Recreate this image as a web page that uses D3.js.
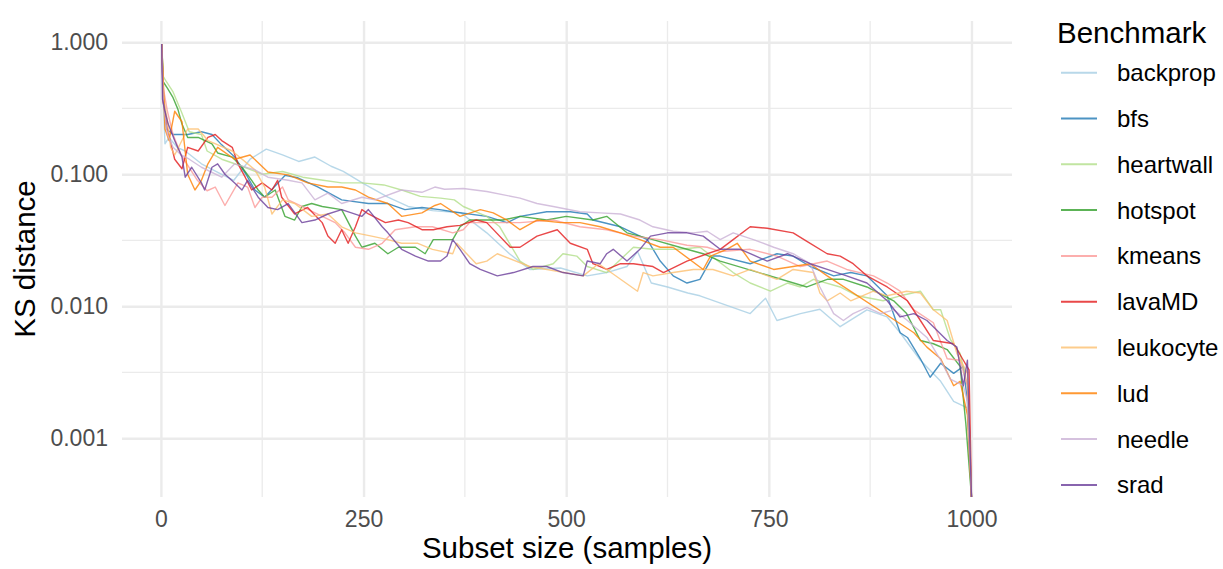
<!DOCTYPE html>
<html>
<head>
<meta charset="utf-8">
<script src="https://cdn.jsdelivr.net/npm/d3@7"></script>
<style>
  body { margin: 0; background: #fff; }
  text { font-family: "Liberation Sans", Arial, Helvetica, sans-serif; }
</style>
</head>
<body>
<div id="chart"></div>
<script>
// [subset size, KS distance]
var benchmarks = ["backprop", "bfs", "heartwall", "hotspot", "kmeans", "lavaMD", "leukocyte", "lud", "needle", "srad"];

var backprop = [[1,0.97],[3,0.35],[5,0.17],[10,0.19],[20,0.16],[30,0.15],[50,0.12],[75,0.10],[90,0.09],[110,0.13],[130,0.155],[150,0.14],[170,0.125],[190,0.135],[210,0.115],[225,0.105],[250,0.085],[280,0.067],[305,0.057],[335,0.053],[370,0.051],[402,0.036],[430,0.025],[455,0.019],[493,0.0195],[526,0.017],[550,0.018],[575,0.02],[588,0.026],[605,0.015],[625,0.014],[650,0.0126],[665,0.012],[727,0.0088],[746,0.0115],[760,0.0078],[789,0.0088],[813,0.0095],[838,0.007],[871,0.0094],[896,0.0083],[912,0.0063],[937,0.0039],[962,0.0027],[978,0.0019],[995,0.0017],[1000,0]];
var bfs = [[1,0.97],[3,0.4],[7,0.22],[15,0.2],[33,0.2],[50,0.21],[63,0.2],[75,0.167],[91,0.135],[105,0.1],[116,0.076],[128,0.067],[153,0.098],[169,0.094],[194,0.08],[223,0.064],[256,0.06],[280,0.06],[301,0.054],[322,0.056],[344,0.054],[360,0.052],[402,0.048],[427,0.043],[443,0.048],[476,0.052],[505,0.052],[526,0.05],[533,0.045],[567,0.04],[600,0.032],[616,0.022],[632,0.017],[649,0.015],[665,0.016],[681,0.024],[690,0.024],[727,0.021],[760,0.025],[780,0.024],[801,0.02],[830,0.017],[851,0.018],[871,0.017],[896,0.012],[912,0.0063],[921,0.0058],[937,0.004],[949,0.0029],[962,0.0037],[978,0.0031],[990,0.0035],[995,0.0019],[1000,0]];
var heartwall = [[1,0.97],[3,0.55],[7,0.5],[15,0.42],[25,0.3],[35,0.21],[50,0.2],[57,0.15],[75,0.13],[100,0.115],[125,0.1],[150,0.105],[175,0.095],[200,0.09],[223,0.086],[248,0.086],[275,0.083],[300,0.075],[320,0.068],[345,0.066],[362,0.064],[373,0.057],[402,0.048],[418,0.04],[430,0.03],[443,0.022],[459,0.019],[484,0.021],[496,0.025],[513,0.024],[526,0.02],[550,0.018],[583,0.028],[607,0.027],[640,0.027],[665,0.028],[706,0.018],[727,0.015],[752,0.013],[773,0.015],[789,0.014],[805,0.016],[838,0.014],[859,0.012],[891,0.011],[912,0.012],[937,0.013],[953,0.0094],[962,0.0094],[974,0.0056],[986,0.0044],[995,0.0025],[1000,0]];
var hotspot = [[1,0.97],[3,0.5],[8,0.45],[15,0.38],[21,0.31],[26,0.24],[33,0.19],[46,0.19],[63,0.17],[70,0.145],[88,0.135],[100,0.113],[112,0.09],[120,0.076],[128,0.067],[141,0.076],[153,0.048],[165,0.045],[174,0.057],[186,0.06],[199,0.057],[223,0.054],[240,0.034],[248,0.028],[264,0.03],[280,0.025],[293,0.028],[314,0.028],[326,0.025],[336,0.032],[360,0.032],[369,0.04],[381,0.045],[422,0.045],[443,0.048],[476,0.045],[500,0.048],[533,0.045],[550,0.048],[575,0.036],[607,0.032],[640,0.028],[669,0.025],[690,0.022],[797,0.014],[822,0.016],[842,0.016],[871,0.014],[904,0.011],[920,0.0088],[937,0.0055],[953,0.0052],[970,0.0047],[986,0.0035],[993,0.0013],[1000,0]];
var kmeans = [[1,0.97],[3,0.45],[8,0.3],[15,0.2],[25,0.14],[32,0.12],[45,0.09],[57,0.075],[67,0.08],[79,0.058],[95,0.086],[107,0.08],[116,0.056],[125,0.067],[137,0.067],[150,0.08],[157,0.064],[174,0.057],[199,0.048],[215,0.043],[227,0.036],[240,0.028],[256,0.027],[273,0.03],[289,0.038],[314,0.04],[335,0.04],[360,0.036],[373,0.038],[381,0.043],[422,0.043],[443,0.043],[484,0.045],[517,0.04],[550,0.038],[583,0.034],[616,0.032],[649,0.029],[674,0.028],[690,0.026],[727,0.027],[760,0.024],[789,0.02],[822,0.022],[846,0.019],[879,0.017],[896,0.015],[912,0.013],[929,0.0094],[953,0.0075],[970,0.004],[986,0.0039],[995,0.0025],[1000,0]];
var lavaMD = [[1,0.97],[3,0.35],[8,0.22],[17,0.13],[26,0.11],[33,0.16],[46,0.15],[58,0.19],[67,0.2],[75,0.18],[88,0.16],[95,0.12],[104,0.095],[112,0.076],[125,0.086],[137,0.076],[144,0.09],[149,0.067],[165,0.05],[181,0.056],[199,0.043],[206,0.034],[215,0.03],[223,0.038],[231,0.03],[240,0.04],[248,0.054],[256,0.05],[277,0.043],[293,0.045],[305,0.043],[322,0.038],[336,0.038],[353,0.04],[369,0.041],[389,0.045],[402,0.043],[431,0.028],[443,0.028],[464,0.034],[489,0.038],[505,0.03],[526,0.027],[533,0.021],[550,0.019],[567,0.021],[583,0.021],[607,0.02],[620,0.018],[649,0.022],[674,0.025],[690,0.027],[706,0.032],[727,0.04],[748,0.039],[780,0.036],[797,0.031],[822,0.025],[838,0.024],[854,0.021],[871,0.017],[896,0.014],[921,0.011],[937,0.0078],[953,0.0055],[978,0.0052],[990,0.0039],[997,0.0033],[1000,0]];
var leukocyte = [[1,0.97],[3,0.4],[8,0.25],[12,0.16],[17,0.14],[33,0.22],[46,0.22],[58,0.18],[88,0.15],[116,0.108],[128,0.08],[137,0.05],[150,0.064],[165,0.06],[186,0.048],[206,0.05],[223,0.04],[240,0.036],[260,0.034],[280,0.032],[297,0.03],[317,0.03],[335,0.027],[360,0.025],[365,0.03],[389,0.021],[402,0.022],[415,0.025],[455,0.02],[521,0.017],[540,0.021],[588,0.013],[595,0.018],[607,0.017],[632,0.018],[657,0.019],[681,0.019],[706,0.017],[727,0.019],[760,0.016],[780,0.019],[805,0.018],[813,0.0126],[822,0.011],[838,0.0126],[851,0.011],[879,0.013],[896,0.012],[920,0.013],[937,0.0126],[953,0.0094],[970,0.0078],[982,0.0044],[995,0.0031],[1000,0]];
var lud = [[1,0.97],[3,0.5],[5,0.22],[10,0.18],[17,0.3],[26,0.25],[33,0.1],[42,0.076],[50,0.09],[58,0.12],[70,0.16],[91,0.13],[110,0.14],[132,0.104],[157,0.099],[181,0.086],[206,0.08],[223,0.08],[240,0.076],[256,0.067],[280,0.06],[297,0.048],[322,0.051],[338,0.058],[345,0.06],[369,0.048],[394,0.054],[410,0.051],[427,0.045],[443,0.038],[464,0.045],[493,0.043],[517,0.043],[542,0.04],[567,0.036],[591,0.032],[616,0.028],[632,0.028],[669,0.019],[678,0.024],[698,0.027],[711,0.03],[727,0.022],[756,0.019],[780,0.02],[801,0.021],[822,0.017],[929,0.0063],[945,0.0049],[962,0.004],[978,0.0025],[986,0.0027],[995,0.0015],[1000,0]];
var needle = [[1,0.97],[3,0.35],[8,0.2],[15,0.16],[25,0.14],[35,0.13],[50,0.113],[75,0.095],[91,0.12],[116,0.108],[132,0.095],[157,0.09],[174,0.086],[190,0.064],[206,0.072],[223,0.06],[248,0.067],[264,0.064],[297,0.076],[322,0.073],[338,0.08],[350,0.077],[373,0.078],[402,0.074],[443,0.066],[464,0.06],[484,0.057],[517,0.052],[542,0.051],[567,0.05],[591,0.045],[607,0.04],[632,0.037],[657,0.036],[674,0.037],[690,0.032],[706,0.036],[731,0.032],[756,0.028],[780,0.025],[801,0.021],[813,0.014],[830,0.0088],[842,0.0078],[854,0.0088],[871,0.0098],[888,0.0088],[904,0.0094],[921,0.0078],[945,0.0058],[962,0.0039],[974,0.0028],[990,0.0025],[995,0.0019],[1000,0]];
var srad = [[1,0.97],[2,0.37],[5,0.3],[9,0.24],[17,0.18],[26,0.135],[30,0.095],[38,0.113],[50,0.086],[54,0.076],[63,0.113],[70,0.12],[79,0.1],[91,0.086],[100,0.076],[107,0.09],[120,0.067],[132,0.056],[144,0.054],[157,0.06],[174,0.043],[190,0.045],[206,0.05],[223,0.054],[248,0.048],[256,0.054],[273,0.04],[280,0.036],[297,0.027],[314,0.024],[330,0.022],[345,0.022],[353,0.024],[360,0.032],[369,0.027],[381,0.021],[394,0.019],[415,0.017],[435,0.018],[459,0.02],[476,0.02],[496,0.018],[521,0.017],[526,0.022],[542,0.021],[550,0.025],[558,0.027],[575,0.022],[591,0.027],[604,0.034],[625,0.036],[649,0.036],[669,0.034],[690,0.027],[715,0.027],[748,0.022],[773,0.025],[801,0.021],[822,0.019],[846,0.017],[871,0.015],[896,0.011],[912,0.0083],[929,0.0088],[945,0.0078],[957,0.0066],[970,0.0055],[982,0.0049],[990,0.0025],[995,0.0039],[1000,0]];

var xTicks = [0, 250, 500, 750, 1000];
var xMinor = [125, 375, 625, 875];
var yTicks = [1, 0.1, 0.01, 0.001];
var yMinor = [0.316, 0.0316, 0.00316];

(function() {
  var width = 1223,
      height = 569,
      left = 122, right = 1012, top = 21, bottom = 497;

  var series = [backprop, bfs, heartwall, hotspot, kmeans, lavaMD, leukocyte, lud, needle, srad];

  // RColorBrewer "Paired"
  var color = d3.scaleOrdinal()
    .domain(benchmarks)
    .range(["#A6CEE3","#1F78B4","#B2DF8A","#33A02C","#FB9A99","#E31A1C","#FDBF6F","#FF7F00","#CAB2D6","#6A3D9A"]);

  var svg = d3.select("#chart")
    .append("svg")
    .attr("width", width)
    .attr("height", height);

  var x = d3.scaleLinear().domain([-48, 1050]).range([left, right]);
  var y = d3.scaleLog().domain([Math.pow(10, -3.445), Math.pow(10, 0.161)]).range([bottom, top]).clamp(true);

  // minor grid
  svg.selectAll(".xminor")
    .data(xMinor)
    .enter().append("line")
    .attr("x1", x).attr("x2", x)
    .attr("y1", top).attr("y2", bottom)
    .attr("stroke", "#EBEBEB")
    .attr("stroke-width", 1.3);

  svg.selectAll(".yminor")
    .data(yMinor)
    .enter().append("line")
    .attr("x1", left).attr("x2", right)
    .attr("y1", y).attr("y2", y)
    .attr("stroke", "#EBEBEB")
    .attr("stroke-width", 1.3);

  // major grid + tick labels
  var xAxis = svg.append("g")
    .attr("transform", "translate(0," + bottom + ")")
    .call(d3.axisBottom(x).tickValues(xTicks).tickSize(-(bottom - top)).tickPadding(14).tickFormat(d3.format("d")));

  var yAxis = svg.append("g")
    .attr("transform", "translate(" + left + ",0)")
    .call(d3.axisLeft(y).tickValues(yTicks).tickSize(-(right - left)).tickPadding(14).tickFormat(d3.format(".3f")));

  [xAxis, yAxis].forEach(function(g) {
    g.select(".domain").remove();
    g.selectAll(".tick line").attr("stroke", "#EBEBEB").attr("stroke-width", 2.4);
    g.selectAll(".tick text")
      .attr("fill", "#4D4D4D")
      .style("font-size", "23px")
      .style("font-family", "'Liberation Sans', Arial, sans-serif");
  });

  var line = d3.line()
    .x(function(d) { return x(d[0]); })
    .y(function(d) { return y(d[1]); });

  svg.selectAll(".bench")
    .data(series)
    .enter().append("path")
    .attr("class", "bench")
    .attr("d", line)
    .attr("fill", "none")
    .attr("stroke", function(d, i) { return color(benchmarks[i]); })
    .attr("stroke-width", 1.4)
    .attr("stroke-opacity", 0.8)
    .attr("stroke-linejoin", "round");

  // axis titles
  svg.append("text")
    .attr("x", (left + right) / 2)
    .attr("y", 558)
    .attr("text-anchor", "middle")
    .style("font-size", "29.5px")
    .text("Subset size (samples)");

  svg.append("text")
    .attr("transform", "translate(35," + ((top + bottom) / 2) + ")rotate(-90)")
    .attr("text-anchor", "middle")
    .style("font-size", "29.5px")
    .text("KS distance");

  // legend
  var legend = svg.append("g").attr("transform", "translate(1057,0)");

  legend.append("text")
    .attr("x", 0)
    .attr("y", 43)
    .style("font-size", "29.5px")
    .text("Benchmark");

  var items = legend.selectAll(".item")
    .data(benchmarks)
    .enter().append("g")
    .attr("class", "item")
    .attr("transform", function(d, i) { return "translate(0," + (72.7 + i * 45.8) + ")"; });

  items.append("line")
    .attr("x1", 4).attr("x2", 40)
    .attr("stroke", color)
    .attr("stroke-width", 2)
    .attr("stroke-opacity", 0.8);

  items.append("text")
    .attr("x", 60)
    .attr("dy", "0.35em")
    .style("font-size", "24px")
    .text(function(d) { return d; });
})();
</script>
</body>
</html>
